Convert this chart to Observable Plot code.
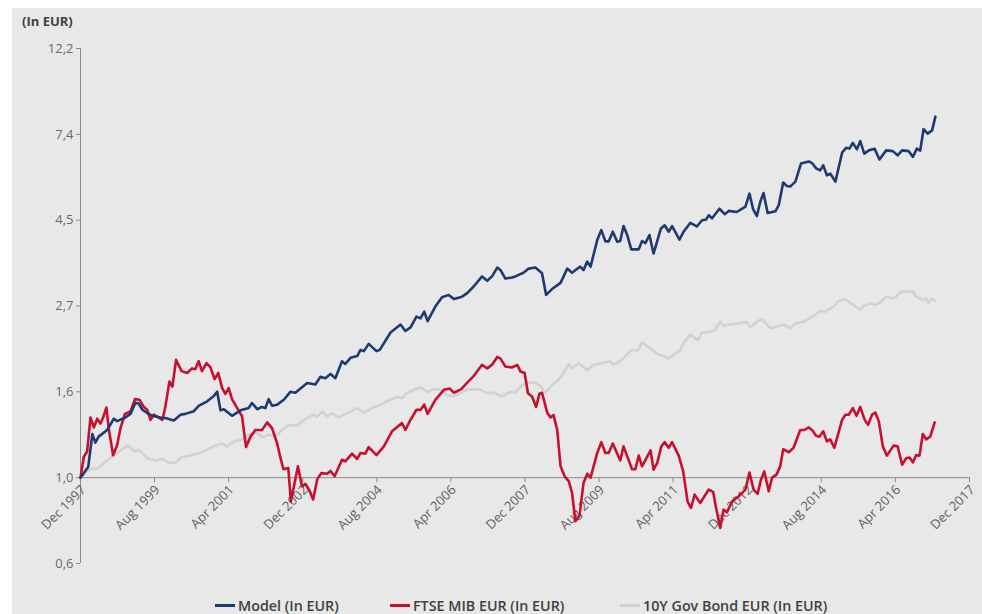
<!DOCTYPE html>
<html>
<head>
<meta charset="utf-8">
<script src="https://cdn.jsdelivr.net/npm/d3@7"></script>
<script src="https://cdn.jsdelivr.net/npm/@observablehq/plot@0.6"></script>
<style>
  html, body { margin: 0; padding: 0; background: #ffffff; }
  #panel { position: absolute; left: 12px; top: 8px; width: 970px; height: 606px; background: #e8e8e8; overflow: hidden; }
  #unit { position: absolute; left: 10px; top: 4px; font: 700 13px "Open Sans", sans-serif; color: #404040; }
  #chart { position: absolute; left: 0; top: 0; }
  .leg { position: absolute; top: 588px; height: 18px; display: flex; align-items: center; font: 600 14.3px "Open Sans", sans-serif; color: #404040; white-space: nowrap; }
  .sw { width: 20px; height: 3px; margin-right: 3px; }
</style>
</head>
<body>
<div id="panel">
  <div id="chart"></div>
  <div id="unit">(In EUR)</div>
  <div id="legend"></div>
</div>
<script>
// ---- data: [months since Dec 1997, value in EUR] ----
const modelData = [
[0,1.0],[2.1,1.066],[3.2,1.29],[4.0,1.226],[4.9,1.27],[7.2,1.32],[9.0,1.41],[9.9,1.39],[12.1,1.42],[13.5,1.45],
[14.8,1.546],[15.7,1.54],[16.7,1.485],[18.0,1.457],[19.4,1.434],[21.6,1.42],[22.9,1.415],[25.2,1.395],[27.0,1.443],[28.3,1.45],
[30.6,1.473],[31.9,1.52],[34.2,1.56],[36.0,1.61],[36.9,1.65],[37.8,1.48],[38.7,1.49],[40.9,1.434],[43.2,1.48],[45.4,1.50],
[46.3,1.545],[47.7,1.49],[49.0,1.51],[49.9,1.50],[50.8,1.58],[51.7,1.52],[53.1,1.53],[54.9,1.574],[56.7,1.65],[58.0,1.64],
[61.2,1.735],[63.4,1.72],[64.8,1.80],[66.1,1.785],[67.5,1.83],[68.8,1.785],[70.6,1.97],[71.5,1.94],[72.9,2.01],[74.7,2.03],
[75.6,2.105],[76.5,2.09],[77.8,2.18],[79.9,2.09],[80.8,2.105],[83.7,2.33],[86.4,2.44],[87.7,2.35],[89.1,2.40],[90.7,2.555],
[91.8,2.53],[92.8,2.63],[93.7,2.49],[95.8,2.71],[97.6,2.86],[99.4,2.90],[100.8,2.83],[103.0,2.87],[104.4,2.93],[106.2,3.05],
[108.4,3.23],[109.8,3.15],[111.1,3.23],[112.5,3.40],[113.4,3.35],[114.7,3.19],[116.5,3.21],[117.4,3.23],[119.6,3.30],[121.0,3.38],
[122.8,3.40],[124.6,3.29],[125.7,2.90],[127.3,3.0],[129.6,3.11],[131.4,3.38],[132.7,3.30],[134.9,3.42],[135.8,3.35],[136.8,3.52],
[137.7,3.42],[139.5,3.99],[140.6,4.23],[141.7,3.96],[142.6,3.96],[143.7,4.19],[144.9,3.95],[145.7,3.97],[146.6,4.33],[147.6,4.11],
[148.7,3.78],[150.7,3.78],[151.6,3.97],[152.5,3.92],[153.6,4.11],[154.7,3.69],[156.7,4.27],[157.7,4.35],[158.8,4.19],[159.7,4.33],
[161.7,4.0],[162.8,4.19],[164.6,4.41],[166.4,4.32],[167.8,4.48],[168.9,4.50],[169.6,4.61],[170.5,4.53],[172.5,4.79],[173.9,4.64],
[175.0,4.73],[177.2,4.70],[179.5,4.85],[180.6,5.23],[181.6,4.77],[182.6,4.59],[183.5,4.98],[184.4,5.25],[185.5,4.67],[187.6,4.72],
[188.5,4.89],[189.7,5.58],[190.7,5.47],[191.6,5.45],[193.0,5.61],[194.5,6.23],[196.6,6.31],[197.5,6.25],[198.6,6.06],[199.7,5.99],
[200.5,6.17],[201.5,5.82],[202.4,5.88],[203.8,5.61],[205.6,6.64],[206.7,6.83],[207.6,6.80],[208.5,7.03],[209.6,6.77],[210.5,7.10],
[211.6,6.60],[212.8,6.73],[214.4,6.79],[215.7,6.38],[217.5,6.73],[219.3,6.70],[220.6,6.54],[221.8,6.73],[223.6,6.70],[224.7,6.48],
[225.8,6.80],[226.7,6.72],[227.6,7.62],[228.7,7.42],[229.9,7.56],[230.8,8.19]
];
const ftseData = [
[0,1.0],[0.9,1.13],[1.8,1.165],[2.7,1.42],[3.6,1.34],[4.5,1.41],[5.4,1.37],[6.1,1.42],[7.0,1.505],[7.6,1.335],
[8.8,1.14],[9.9,1.21],[10.8,1.335],[12.0,1.45],[13.5,1.47],[14.7,1.58],[15.9,1.575],[17.1,1.51],[18.0,1.485],[18.9,1.40],
[19.8,1.443],[21.0,1.42],[22.1,1.40],[22.9,1.51],[24.0,1.75],[24.8,1.70],[25.8,1.986],[27.3,1.86],[28.8,1.84],[30.1,1.89],
[31.0,1.88],[31.9,1.97],[32.8,1.86],[34.0,1.95],[35.1,1.90],[36.2,1.775],[37.2,1.84],[38.2,1.69],[39.1,1.63],[40.0,1.685],
[40.9,1.58],[42.3,1.50],[43.6,1.43],[44.7,1.195],[45.9,1.27],[47.2,1.32],[49.0,1.32],[50.4,1.38],[51.7,1.335],[53.1,1.22],
[54.0,1.12],[54.8,1.05],[56.1,1.058],[56.8,0.87],[58.7,1.068],[59.8,0.95],[60.7,0.965],[61.9,0.924],[62.8,0.88],[63.9,0.99],
[65.0,1.027],[66.6,1.023],[67.5,1.04],[68.6,1.008],[70.6,1.11],[71.5,1.10],[73.3,1.15],[74.7,1.115],[75.6,1.155],[76.9,1.15],
[77.8,1.195],[79.9,1.14],[81.9,1.20],[84.1,1.31],[86.8,1.375],[87.7,1.32],[88.9,1.39],[90.7,1.485],[91.8,1.485],[92.8,1.53],
[93.7,1.45],[95.8,1.574],[98.1,1.668],[99.7,1.68],[100.8,1.64],[102.8,1.675],[104.4,1.74],[106.2,1.81],[108.4,1.93],[109.8,1.89],
[111.1,1.93],[112.5,2.02],[113.4,2.00],[114.7,1.91],[116.5,1.90],[117.9,1.93],[118.8,1.855],[119.9,1.84],[120.8,1.635],[121.9,1.605],
[123.0,1.51],[123.9,1.63],[124.6,1.64],[126.0,1.46],[126.9,1.42],[127.7,1.44],[128.7,1.32],[129.6,1.068],[130.7,1.008],[131.8,0.98],
[132.7,0.915],[133.6,0.776],[134.7,0.80],[135.8,0.97],[136.8,1.023],[137.7,1.0],[139.5,1.155],[140.6,1.23],[141.7,1.155],[142.6,1.155],
[143.7,1.22],[145.7,1.105],[146.6,1.20],[148.9,1.05],[149.8,1.05],[150.7,1.137],[151.6,1.068],[153.9,1.172],[154.7,1.048],[155.7,1.09],
[156.8,1.20],[157.7,1.23],[158.8,1.19],[159.7,1.23],[161.5,1.137],[162.7,1.037],[163.9,0.87],[164.8,0.838],[165.8,0.906],[167.3,0.863],
[169.6,0.933],[170.8,0.92],[171.4,0.855],[172.7,0.746],[173.6,0.83],[174.5,0.817],[175.9,0.87],[177.7,0.897],[179.5,0.933],[180.6,1.03],
[181.7,0.933],[182.8,0.91],[183.7,0.988],[184.6,1.037],[185.8,0.924],[186.7,1.0],[187.9,1.018],[188.9,1.068],[189.7,1.18],[191.2,1.16],
[192.5,1.19],[194.3,1.32],[195.4,1.32],[196.6,1.34],[197.5,1.32],[198.6,1.277],[199.5,1.27],[200.5,1.31],[201.5,1.235],[202.4,1.25],
[203.5,1.19],[205.6,1.40],[206.5,1.443],[207.4,1.443],[208.5,1.50],[209.5,1.434],[210.5,1.51],[211.7,1.40],[212.6,1.36],[213.7,1.443],
[214.6,1.46],[215.5,1.39],[216.6,1.20],[217.7,1.137],[219.5,1.205],[220.6,1.20],[221.8,1.078],[222.9,1.12],[223.8,1.125],[224.7,1.093],
[225.6,1.14],[226.5,1.137],[227.4,1.29],[228.3,1.25],[229.4,1.27],[230.6,1.38]
];
const bondData = [
[0,1.0],[2.2,1.048],[4.9,1.058],[7.6,1.115],[9.9,1.155],[11.7,1.19],[13.0,1.205],[14.4,1.165],[15.7,1.177],[18.0,1.12],
[20.2,1.105],[22.1,1.115],[23.8,1.093],[25.6,1.09],[27.4,1.128],[30.1,1.14],[32.8,1.16],[35.5,1.195],[38.2,1.22],[39.6,1.20],
[41.4,1.235],[43.6,1.247],[45.4,1.284],[47.7,1.30],[49.0,1.267],[50.8,1.284],[52.6,1.27],[54.4,1.32],[56.2,1.36],[58.5,1.353],
[60.3,1.40],[63.0,1.443],[63.9,1.425],[65.2,1.47],[66.6,1.43],[67.9,1.457],[69.7,1.42],[72.0,1.457],[74.7,1.50],[76.5,1.457],
[78.7,1.50],[81.0,1.53],[83.7,1.574],[85.5,1.60],[86.8,1.59],[88.2,1.64],[90.0,1.668],[91.8,1.69],[93.6,1.65],[95.4,1.675],
[97.2,1.668],[99.0,1.62],[100.8,1.605],[102.6,1.637],[104.4,1.668],[106.2,1.675],[108.0,1.668],[109.8,1.637],[111.5,1.64],[113.8,1.605],
[116.1,1.65],[117.4,1.64],[119.2,1.715],[121.0,1.74],[122.8,1.74],[124.2,1.70],[125.5,1.64],[127.3,1.715],[129.1,1.768],[130.4,1.84],
[131.8,1.94],[132.7,1.89],[134.5,1.95],[136.8,1.87],[138.5,1.93],[140.8,1.95],[143.0,1.97],[143.9,1.93],[146.2,1.99],[148.4,2.09],
[149.3,2.105],[150.3,2.09],[151.6,2.20],[154.3,2.105],[156.1,2.045],[157.4,2.03],[158.8,2.0],[160.6,2.065],[161.7,2.09],[162.8,2.19],
[164.6,2.30],[166.7,2.23],[167.8,2.33],[170.0,2.34],[171.4,2.37],[172.7,2.48],[173.6,2.42],[175.0,2.44],[176.8,2.45],[178.1,2.46],
[179.9,2.48],[180.8,2.40],[182.6,2.48],[184.0,2.52],[185.8,2.41],[186.7,2.39],[188.0,2.41],[189.8,2.44],[191.6,2.39],[193.0,2.45],
[195.2,2.48],[197.5,2.55],[199.7,2.64],[201.1,2.63],[203.3,2.71],[204.7,2.80],[206.5,2.83],[207.8,2.77],[209.2,2.71],[210.5,2.66],
[211.4,2.72],[213.2,2.76],[214.6,2.74],[215.9,2.77],[217.5,2.87],[219.5,2.84],[221.8,2.96],[223.1,2.95],[224.7,2.96],[225.8,2.86],
[227.4,2.815],[228.3,2.84],[228.9,2.77],[229.9,2.84],[230.8,2.80]
];
const seriesNames = ["Model (In EUR)", "FTSE MIB EUR (In EUR)", "10Y Gov Bond EUR (In EUR)"];
const seriesColors = ["#1f3a70", "#c8102e", "#d2d2d2"];
const xTickLabels = ["Dec 1997","Aug 1999","Apr 2001","Dec 2002","Aug 2004","Apr 2006","Dec 2007","Aug 2009","Apr 2011","Dec 2012","Aug 2014","Apr 2016","Dec 2017"];
const yTickValues = [0.6065, 1, 1.6487, 2.7183, 4.4817, 7.3891, 12.1825];
const yTickLabels = ["0,6","1,0","1,6","2,7","4,5","7,4","12,2"];

// ---- build ----
const t0 = Date.UTC(1997, 11, 1), t1 = Date.UTC(2017, 11, 1);
const toDate = m => new Date(t0 + (m / 240) * (t1 - t0));
const parseTick = d3.utcParse("%b %Y");
const xTickDates = xTickLabels.map(parseTick);
const rows = (arr) => arr.map(([m, v]) => ({date: toDate(m), value: v}));
const series = [modelData, ftseData, bondData].map(rows);

const axisColor = "#8a8a8a";
const chart = Plot.plot({
  width: 970,
  height: 580,
  marginLeft: 68,
  marginRight: 13,
  marginTop: 40,
  marginBottom: 25,
  style: {background: "transparent", fontFamily: "'Open Sans', sans-serif", fontSize: "13px", color: "#6b6b6b"},
  x: {type: "utc", domain: [new Date(t0), new Date(t1)], axis: null},
  y: {type: "log", domain: [yTickValues[0], yTickValues[yTickValues.length - 1]]},
  marks: [
    Plot.axisY({ticks: yTickValues, tickFormat: d => yTickLabels[yTickValues.indexOf(d)], tickSize: 4, tickPadding: 3, stroke: axisColor, fill: "#6b6b6b", label: null}),
    Plot.ruleX([new Date(t0)], {y1: yTickValues[0], y2: yTickValues[yTickValues.length - 1], stroke: axisColor}),
    Plot.ruleY([1], {x1: new Date(t0), x2: new Date(t1), stroke: axisColor}),
    Plot.ruleX(xTickDates, {y1: 1, y2: 1, insetTop: 0, insetBottom: -5, stroke: axisColor}),
    Plot.text(xTickDates, {x: d => d, y: 1, text: (d, i) => xTickLabels[i], rotate: -45, textAnchor: "end", dx: 3, dy: 10, fill: "#606060"}),
    Plot.line(series[2], {x: "date", y: "value", stroke: seriesColors[2], strokeWidth: 2.6, strokeLinejoin: "round"}),
    Plot.line(series[1], {x: "date", y: "value", stroke: seriesColors[1], strokeWidth: 2.6, strokeLinejoin: "round"}),
    Plot.line(series[0], {x: "date", y: "value", stroke: seriesColors[0], strokeWidth: 2.6, strokeLinejoin: "round"})
  ]
});
document.getElementById("chart").appendChild(chart);

// legend
const legendLeft = [203, 378, 608];
const legend = document.getElementById("legend");
seriesNames.forEach((name, i) => {
  const item = document.createElement("div");
  item.className = "leg";
  item.style.left = legendLeft[i] + "px";
  const sw = document.createElement("span");
  sw.className = "sw";
  sw.style.background = seriesColors[i];
  const tx = document.createElement("span");
  tx.textContent = name;
  item.appendChild(sw);
  item.appendChild(tx);
  legend.appendChild(item);
});
</script>
</body>
</html>
